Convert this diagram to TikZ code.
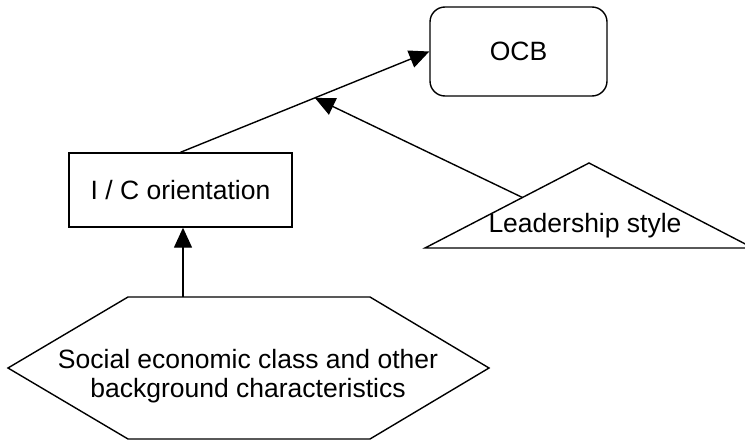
\documentclass[tikz,border=0pt]{standalone}
\usepackage{fontspec}
\setmainfont{Liberation Sans}
\usetikzlibrary{arrows.meta,calc}
\begin{document}
\begin{tikzpicture}[x=1pt,y=-1pt,
  every node/.style={font=\fontsize{26.5}{29}\selectfont},
  ln/.style={line width=1.4pt, black},
  arr/.style={ln, -{Triangle[length=20pt,width=18pt]}},
  ocbbox/.style={draw, line width=1.4pt, rounded corners=15pt, minimum width=177pt, minimum height=89pt, inner sep=0pt},
  icbox/.style={draw, line width=1.4pt, minimum width=223pt, minimum height=74pt, inner sep=0pt},
  plain/.style={inner sep=0pt, align=center}]
\useasboundingbox (0,0) rectangle (745,441);
% main nodes
\node[ocbbox] (ocb) at (518.5,51.5) {OCB};
\node[icbox] (ic) at (180.5,190) {I / C orientation};
% coordinates of shapes
\coordinate (ltc) at (586,228);
\coordinate (htop) at (183,297);
% arrows
\draw[arr] (ic.north) -- (ocb.west) coordinate[pos=0.54] (mid);
\draw[arr] (ltc) -- (mid);
\draw[arr] (htop) -- (htop |- ic.south);
% leadership triangle
\filldraw[ln, fill=white, line join=miter] (425,248) -- (589,163) -- (753,248) -- cycle;
\node[plain] (lead) at (585,226) {Leadership style};
% hexagon
\filldraw[ln, fill=white] (8,368) -- (128,297) -- (370,297) -- (489,368) -- (370,439) -- (128,439) -- cycle;
\node[plain] (soc) at (248,376) {Social economic class and other\\background characteristics};
\end{tikzpicture}
\end{document}
